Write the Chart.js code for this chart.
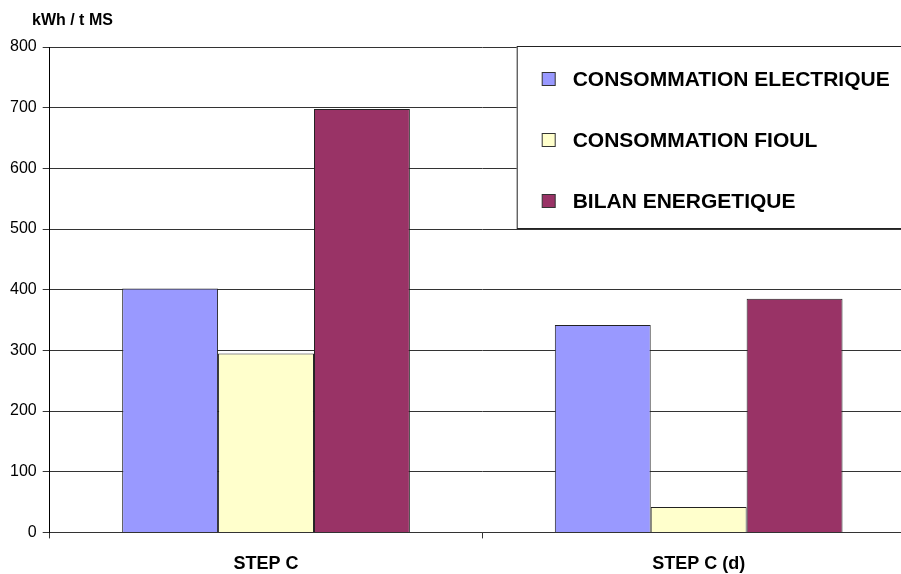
<!DOCTYPE html>
<html>
<head>
<meta charset="utf-8">
<script src="https://cdn.jsdelivr.net/npm/chart.js@4/dist/chart.umd.min.js"></script>
<style>
  html, body { margin: 0; padding: 0; background: #fff; overflow: hidden; }
  canvas { display: block; }
</style>
</head>
<body>
<canvas id="energyChart" width="915" height="574"></canvas>
<script>
const categories = ["STEP C", "STEP C (d)"];
const seriesNames = ["CONSOMMATION ELECTRIQUE", "CONSOMMATION FIOUL", "BILAN ENERGETIQUE"];
const electrique = [402, 342];
const fioul = [295, 42];
const bilan = [698, 385];
const colors = ["#9999ff", "#ffffcc", "#993366"];
const yTicks = [0, 100, 200, 300, 400, 500, 600, 700, 800];
const unitLabel = "kWh / t MS";
const FONT = "'Liberation Sans', Arial, sans-serif";

// legend box inside the plot (top right) + unit label above the axis
const boxLegend = {
  id: "boxLegend",
  afterDatasetsDraw(chart) {
    const ctx = chart.ctx;
    const area = chart.chartArea;
    const x0 = area.left + 467, y0 = area.top - 1;
    const w = area.right - x0 + 2, h = 182;
    ctx.save();
    ctx.fillStyle = "#fff";
    ctx.fillRect(x0, y0, w, h);
    ctx.strokeStyle = "#222";
    ctx.lineWidth = 1;
    ctx.strokeRect(x0 + 0.5, y0 + 0.5, w, h);
    ctx.font = "bold 21px " + FONT;
    ctx.textBaseline = "middle";
    chart.data.datasets.forEach((ds, i) => {
      const cy = y0 + 33 + i * 61;
      ctx.fillStyle = ds.backgroundColor;
      ctx.fillRect(x0 + 25.5, cy - 6.5, 13, 13);
      ctx.strokeStyle = "#333";
      ctx.strokeRect(x0 + 25.5, cy - 6.5, 13, 13);
      ctx.fillStyle = "#000";
      ctx.fillText(ds.label, x0 + 56, cy + 1);
    });
    ctx.font = "bold 16px " + FONT;
    ctx.fillText(unitLabel, 32, 21);
    ctx.restore();
  }
};

const ctx = document.getElementById("energyChart").getContext("2d");
new Chart(ctx, {
  type: "bar",
  data: {
    labels: categories,
    datasets: [electrique, fioul, bilan].map((vals, i) => ({
      label: seriesNames[i],
      data: vals,
      backgroundColor: colors[i],
      borderColor: "#222",
      borderWidth: 1,
      categoryPercentage: 0.665,
      barPercentage: 1
    }))
  },
  options: {
    responsive: false,
    animation: false,
    layout: { padding: { left: 4, right: 0, top: 47, bottom: -16 } },
    plugins: {
      legend: { display: false },
      tooltip: { enabled: false },
      title: { display: false }
    },
    scales: {
      x: {
        grid: { drawOnChartArea: false, color: "#333", tickLength: 6, offset: true },
        border: { color: "#333" },
        ticks: {
          color: "#000",
          padding: 15,
          font: { family: FONT, size: 18, weight: "bold" }
        }
      },
      y: {
        min: 0,
        max: 800,
        afterBuildTicks: axis => { axis.ticks = yTicks.map(v => ({ value: v })); },
        grid: { color: "#333", tickLength: 7 },
        border: { color: "#000" },
        ticks: {
          color: "#000",
          padding: 6,
          font: { family: FONT, size: 16 }
        }
      }
    }
  },
  plugins: [boxLegend]
});
</script>
</body>
</html>
